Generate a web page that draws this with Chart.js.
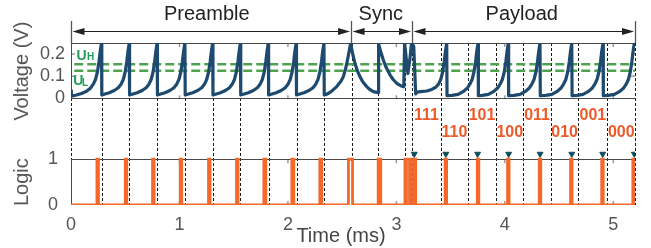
<!DOCTYPE html>
<html><head><meta charset="utf-8">
<script src="https://cdn.jsdelivr.net/npm/chart.js@4.4.1/dist/chart.umd.min.js"></script>
<style>
html,body{margin:0;padding:0;background:#fff;}
#wrap{position:relative;width:651px;height:248px;overflow:hidden;background:#fff;}
#wrap canvas{position:absolute;left:0;}
</style>
</head><body>
<div id="wrap">
<canvas id="cv" width="651" height="140" style="top:0px"></canvas>
<canvas id="cl" width="651" height="124" style="top:124px"></canvas>
</div>
<script>
const FONT = '"Liberation Sans", Arial, Helvetica, sans-serif';

// ---- tick labels ----
const xTicks = [0, 1, 2, 3, 4, 5];
const voltTicks = [0, 0.1, 0.2];
const logicTicks = [0, 1];

// ---- thresholds (V) ----
const UH = 0.154;
const UL = 0.125;

// ---- voltage trace [time ms, volts] ----
const voltPreamble = [
 [0.000,0.035],[0.003,0.010],[0.050,0.015],[0.097,0.022],[0.143,0.032],[0.180,0.046],[0.207,0.065],[0.226,0.085],[0.244,0.120],[0.258,0.165],[0.270,0.215],[0.281,0.250],
 [0.284,0.015],[0.306,0.018],[0.353,0.025],[0.399,0.035],[0.436,0.048],[0.463,0.065],[0.482,0.085],[0.500,0.120],[0.514,0.165],[0.526,0.215],[0.537,0.250],
 [0.540,0.015],[0.563,0.018],[0.610,0.025],[0.656,0.035],[0.693,0.048],[0.720,0.065],[0.739,0.085],[0.757,0.120],[0.771,0.165],[0.783,0.215],[0.794,0.250],
 [0.797,0.015],[0.819,0.018],[0.866,0.025],[0.912,0.035],[0.949,0.048],[0.976,0.065],[0.995,0.085],[1.013,0.120],[1.027,0.165],[1.039,0.215],[1.050,0.250],
 [1.053,0.015],[1.075,0.018],[1.122,0.025],[1.168,0.035],[1.205,0.048],[1.232,0.065],[1.251,0.085],[1.269,0.120],[1.283,0.165],[1.295,0.215],[1.306,0.250],
 [1.309,0.015],[1.331,0.018],[1.378,0.025],[1.424,0.035],[1.461,0.048],[1.488,0.065],[1.507,0.085],[1.525,0.120],[1.539,0.165],[1.551,0.215],[1.562,0.250],
 [1.565,0.015],[1.588,0.018],[1.635,0.025],[1.681,0.035],[1.718,0.048],[1.745,0.065],[1.764,0.085],[1.782,0.120],[1.796,0.165],[1.808,0.215],[1.819,0.250],
 [1.822,0.015],[1.845,0.018],[1.892,0.025],[1.938,0.035],[1.975,0.048],[2.002,0.065],[2.021,0.085],[2.039,0.120],[2.053,0.165],[2.065,0.215],[2.076,0.250],
 [2.079,0.015],[2.101,0.018],[2.148,0.025],[2.194,0.035],[2.231,0.048],[2.258,0.065],[2.277,0.085],[2.295,0.120],[2.309,0.165],[2.321,0.215],[2.332,0.250],
 [2.335,0.015],[2.365,0.020],[2.398,0.030],[2.450,0.053],[2.490,0.078],[2.511,0.098],[2.530,0.130],[2.548,0.170],[2.565,0.215],[2.579,0.250]
];
const voltSync = [
 [2.595,0.205],[2.618,0.159],[2.640,0.125],[2.664,0.098],[2.690,0.075],[2.726,0.053],[2.755,0.040],[2.787,0.030],[2.832,0.026],
 [2.836,0.245],[2.855,0.212],[2.879,0.174],[2.905,0.140],[2.941,0.106],[2.970,0.085],[3.003,0.068],[3.040,0.057],[3.068,0.052],
 [3.076,0.250],[3.092,0.175],[3.106,0.112],[3.124,0.175],[3.140,0.250],[3.160,0.235],[3.178,0.020]
];
const voltPayload = [
 [3.190,0.028],[3.224,0.030],[3.280,0.033],[3.326,0.040],[3.363,0.050],[3.390,0.065],[3.409,0.085],[3.427,0.120],[3.441,0.165],[3.453,0.215],[3.464,0.250],
 [3.467,0.012],[3.513,0.013],[3.569,0.018],[3.615,0.030],[3.652,0.045],[3.679,0.065],[3.698,0.085],[3.716,0.120],[3.730,0.165],[3.742,0.215],[3.753,0.250],
 [3.756,0.012],[3.792,0.013],[3.848,0.018],[3.894,0.030],[3.931,0.045],[3.958,0.065],[3.977,0.085],[3.995,0.120],[4.009,0.165],[4.021,0.215],[4.032,0.250],
 [4.035,0.012],[4.084,0.013],[4.140,0.018],[4.186,0.030],[4.223,0.045],[4.250,0.065],[4.269,0.085],[4.287,0.120],[4.301,0.165],[4.313,0.215],[4.324,0.250],
 [4.327,0.012],[4.377,0.013],[4.433,0.018],[4.479,0.030],[4.516,0.045],[4.543,0.065],[4.562,0.085],[4.580,0.120],[4.594,0.165],[4.606,0.215],[4.617,0.250],
 [4.620,0.012],[4.665,0.013],[4.721,0.018],[4.767,0.030],[4.804,0.045],[4.831,0.065],[4.850,0.085],[4.868,0.120],[4.882,0.165],[4.894,0.215],[4.905,0.250],
 [4.908,0.012],[4.954,0.013],[5.010,0.018],[5.056,0.030],[5.093,0.045],[5.120,0.065],[5.139,0.085],[5.157,0.120],[5.171,0.165],[5.183,0.215],[5.194,0.250]
];

// ---- logic pulses (ms) ----
const pulseStart = [0.239,0.500,0.752,1.007,1.268,1.526,1.778,2.036,2.294,2.558, 2.832,3.079,3.121,3.162, 3.449,3.746,4.025,4.317,4.606,4.893,5.180];
const pulseEnd   = [0.253,0.514,0.766,1.021,1.282,1.540,1.796,2.054,2.312,2.596, 2.856,3.093,3.135,3.178, 3.463,3.760,4.039,4.331,4.620,4.907,5.200];

// ---- detection markers (ms) ----
const markerTimes = [3.165,3.456,3.749,4.035,4.325,4.617,4.902,5.194];

// ---- payload symbol slots and labels ----
const slotEdges = [3.147,3.409,3.661,3.919,4.171,4.424,4.678,4.946,5.200];
const bitLabels = ['111','110','101','100','011','010','001','000'];

// ---- clock grid (dashed verticals, ms) ----
const clockLines = [0,0.283,0.538,0.796,1.051,1.306,1.562,1.821,2.081,2.335,2.588,2.833,3.075,3.147,3.409,3.661,3.919,4.171,4.424,4.678,4.946,5.200];

// ---- frame sections ----
const sectionNames = ['Preamble','Sync','Payload'];
const sectionEdges = [0, 2.582, 3.144, 5.2];

const NAVY = '#1d4a6e', ORANGE = '#f4692a', GREEN_LINE = '#4fa24f', GREEN_TXT = '#1f9e5a', TEAL = '#0e4d5c', BITC = '#ef5a28';

const toXY = arr => arr.map(p => ({x: p[0], y: p[1]}));
const voltData = toXY(voltPreamble.concat(voltSync, voltPayload));
const logicData = [{x: 0, y: 0}];
pulseStart.forEach((s, i) => {
  logicData.push({x: s, y: 0}, {x: s, y: 1}, {x: pulseEnd[i], y: 1}, {x: pulseEnd[i], y: 0});
});
const markerData = markerTimes.map(t => ({x: t, y: 1.115}));

function drawClock(chart, y0, y1) {
  const {ctx, scales: {x}} = chart;
  ctx.save();
  ctx.strokeStyle = '#1a1a1a'; ctx.lineWidth = 1; ctx.setLineDash([3, 2]);
  clockLines.forEach(t => {
    const px = Math.round(x.getPixelForValue(t)) + 0.5;
    ctx.beginPath(); ctx.moveTo(px, y0); ctx.lineTo(px, y1); ctx.stroke();
  });
  ctx.restore();
}
function drawBox(chart, yTop, yBottom, sides) {
  const {ctx, chartArea: a} = chart;
  ctx.save(); ctx.setLineDash([]); ctx.strokeStyle = '#4a4a4a'; ctx.lineWidth = 1;
  ctx.beginPath();
  if (sides.top) { ctx.moveTo(a.left, Math.round(yTop) + 0.5); ctx.lineTo(a.right, Math.round(yTop) + 0.5); }
  if (sides.bottom) { ctx.moveTo(a.left, Math.round(yBottom) - 0.5); ctx.lineTo(a.right, Math.round(yBottom) - 0.5); }
  if (sides.left) { ctx.moveTo(Math.round(a.left) + 0.5, yTop); ctx.lineTo(Math.round(a.left) + 0.5, yBottom); }
  ctx.stroke();
  ctx.restore();
}
function innerTicks(chart, yTop, yBottom, yTicks, yScale) {
  const {ctx, chartArea: a, scales: {x}} = chart;
  ctx.save(); ctx.strokeStyle = '#9a9a9a'; ctx.lineWidth = 1.5;
  ctx.beginPath();
  xTicks.forEach(v => { const px = x.getPixelForValue(v); if (v > 0) { ctx.moveTo(px, yTop); ctx.lineTo(px, yTop + 4); ctx.moveTo(px, yBottom); ctx.lineTo(px, yBottom - 4); } });
  yTicks.forEach(v => { const py = yScale.getPixelForValue(v); ctx.moveTo(a.left, py); ctx.lineTo(a.left + 4, py); ctx.moveTo(a.right, py); ctx.lineTo(a.right - 4, py); });
  ctx.stroke(); ctx.restore();
}

const topOverlay = {
  id: 'topOverlay',
  beforeDatasetsDraw(chart) {
    const a = chart.chartArea;
    drawClock(chart, a.top, 138);
    innerTicks(chart, a.top, a.bottom, [0.1, 0.2], chart.scales.y);
    drawBox(chart, a.top, a.bottom, {top: true, bottom: true, left: true});
  },
  afterDraw(chart) {
    const {ctx, chartArea: a, scales: {x, y}} = chart;
    ctx.save();
    // section brackets
    const ay = 31.5, L = 12, H = 3.6;
    ctx.strokeStyle = '#555'; ctx.lineWidth = 1.3;
    sectionEdges.forEach(t => {
      const px = Math.round(x.getPixelForValue(t)) + 0.5;
      ctx.beginPath(); ctx.moveTo(px, 21); ctx.lineTo(px, a.top); ctx.stroke();
    });
    ctx.strokeStyle = '#222'; ctx.fillStyle = '#222'; ctx.lineWidth = 1.2;
    const nameShift = [-4.5, -1, -2];
    sectionNames.forEach((nm, i) => {
      const x1 = x.getPixelForValue(sectionEdges[i]) + 1.5;
      const x2 = x.getPixelForValue(sectionEdges[i + 1]) - 1;
      ctx.beginPath(); ctx.moveTo(x1 + L - 1, ay); ctx.lineTo(x2 - L + 1, ay); ctx.stroke();
      ctx.beginPath(); ctx.moveTo(x1, ay); ctx.lineTo(x1 + L, ay - H); ctx.lineTo(x1 + L, ay + H); ctx.closePath(); ctx.fill();
      ctx.beginPath(); ctx.moveTo(x2, ay); ctx.lineTo(x2 - L, ay - H); ctx.lineTo(x2 - L, ay + H); ctx.closePath(); ctx.fill();
      ctx.font = '20px ' + FONT; ctx.textAlign = 'center'; ctx.textBaseline = 'alphabetic';
      ctx.fillText(nm, (x1 + x2) / 2 + nameShift[i], 20);
    });
    // threshold labels
    ctx.fillStyle = GREEN_TXT; ctx.textAlign = 'left';
    const x0 = a.left;
    const yh = y.getPixelForValue(UH) - 4.5;
    ctx.font = 'bold 14px ' + FONT; ctx.fillText('U', x0 + 5.5, yh);
    ctx.font = 'bold 10px ' + FONT; ctx.fillText('H', x0 + 16, yh);
    const yl = y.getPixelForValue(UL) + 14.5;
    ctx.font = 'bold 14px ' + FONT; ctx.fillText('U', x0 + 2.3, yl);
    ctx.font = 'bold 10px ' + FONT; ctx.fillText('L', x0 + 11, yl + 1.2);
    // bit labels
    ctx.fillStyle = BITC; ctx.font = 'bold 16px ' + FONT; ctx.textAlign = 'center';
    bitLabels.forEach((b, i) => {
      const cx = (x.getPixelForValue(slotEdges[i]) + x.getPixelForValue(slotEdges[i + 1])) / 2;
      ctx.fillText(b, cx, i % 2 === 0 ? 120 : 137);
    });
    ctx.restore();
  }
};

const botOverlay = {
  id: 'botOverlay',
  beforeDatasetsDraw(chart) {
    const a = chart.chartArea, yS = chart.scales.y;
    const yTop = yS.getPixelForValue(1), yBot = yS.getPixelForValue(0);
    drawClock(chart, 14, a.bottom);
    innerTicks(chart, yTop, yBot, [], yS);
    drawBox(chart, yTop, yBot, {top: true, left: true});
  },
  afterDraw(chart) {
    const {ctx, scales: {y}} = chart;
    ctx.save();
    ctx.fillStyle = '#444'; ctx.font = '20px ' + FONT; ctx.textAlign = 'center'; ctx.textBaseline = 'alphabetic';
    ctx.fillText('Time (ms)', 341, 117.5);
    // y title of the logic panel, centred on its 0..1 band
    const cy = (y.getPixelForValue(0) + y.getPixelForValue(1)) / 2;
    ctx.translate(22, cy); ctx.rotate(-Math.PI / 2);
    ctx.fillStyle = '#555'; ctx.textBaseline = 'middle';
    ctx.fillText('Logic', 0, 0);
    ctx.restore();
  }
};

const tickFont = {family: FONT, size: 18};
const setTicks = arr => s => { s.ticks = arr.map(v => ({value: v})); };

new Chart(document.getElementById('cv'), {
  type: 'line',
  data: {datasets: [
    {label: 'U_H', data: [{x: 0.03, y: UH}, {x: 5.2, y: UH}], borderColor: GREEN_LINE, borderWidth: 2.5, borderDash: [9, 4], pointRadius: 0, order: 2},
    {label: 'U_L', data: [{x: 0.03, y: UL}, {x: 5.2, y: UL}], borderColor: GREEN_LINE, borderWidth: 2.5, borderDash: [9, 4], pointRadius: 0, order: 2},
    {label: 'Voltage', data: voltData, borderColor: NAVY, borderWidth: 3.2, pointRadius: 0, tension: 0, borderJoinStyle: 'round', order: 1}
  ]},
  options: {
    responsive: false, animation: false, events: [],
    layout: {padding: {top: 43, right: 16, bottom: 40.7, left: 0}},
    plugins: {legend: {display: false}, tooltip: {enabled: false}},
    scales: {
      x: {type: 'linear', min: 0, max: 5.2, display: false},
      y: {type: 'linear', min: -0.0045, max: 0.25,
          afterBuildTicks: setTicks(voltTicks),
          afterFit: s => { s.width = 71; },
          ticks: {font: tickFont, color: '#555', padding: 6, callback: v => v === 0 ? '0' : v.toFixed(1)},
          grid: {display: false, drawTicks: false}, border: {display: false},
          title: {display: true, text: 'Voltage (V)', color: '#555', font: {family: FONT, size: 20}, padding: {top: 10, bottom: 0}}}
    }
  },
  plugins: [topOverlay]
});

new Chart(document.getElementById('cl'), {
  type: 'line',
  data: {datasets: [
    {label: 'Markers', data: markerData, showLine: false, pointStyle: 'triangle', rotation: 180, pointRadius: 3.4, pointBackgroundColor: TEAL, pointBorderColor: TEAL, pointBorderWidth: 1, order: 0},
    {label: 'Logic', data: logicData, borderColor: ORANGE, borderWidth: 2.8, pointRadius: 0, tension: 0, borderJoinStyle: 'miter', order: 1}
  ]},
  options: {
    responsive: false, animation: false, events: [],
    layout: {padding: {top: 12.25, right: 16, bottom: 0, left: 0}},
    plugins: {legend: {display: false}, tooltip: {enabled: false}},
    scales: {
      x: {type: 'linear', min: 0, max: 5.2,
          afterBuildTicks: setTicks(xTicks),
          afterFit: s => { s.height = 43; },
          ticks: {font: tickFont, color: '#555', padding: 9, maxRotation: 0, callback: v => String(v)},
          grid: {display: false, drawTicks: false}, border: {display: false}},
      y: {type: 'linear', min: 0, max: 1.25,
          afterBuildTicks: setTicks(logicTicks),
          afterFit: s => { s.width = 71; },
          ticks: {font: tickFont, color: '#555', padding: 13, callback: v => String(v)},
          grid: {display: false, drawTicks: false}, border: {display: false}}
    }
  },
  plugins: [botOverlay]
});
</script>
</body></html>
